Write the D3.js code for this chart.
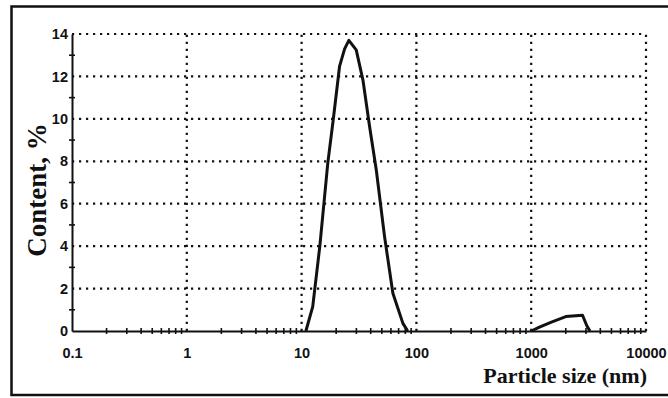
<!DOCTYPE html>
<html>
<head>
<meta charset="utf-8">
<script src="https://cdn.jsdelivr.net/npm/d3@7"></script>
<style>
  html, body { margin: 0; padding: 0; background: #fff; }
  svg { display: block; }
  .tick text { font-family: "Liberation Sans", Arial, sans-serif; font-weight: bold; font-size: 14.5px; fill: #111; }
  .title { font-family: "Liberation Serif", "Times New Roman", serif; font-weight: bold; fill: #111; }
</style>
</head>
<body>
<svg id="chart"></svg>
<script>
// particle size distribution (nm, %)
const sizes = [10.9, 12.5, 14.4, 16.9, 19.0, 21.4, 23.7, 25.8, 29.9, 34.2, 39.1, 44.7, 52.8, 62.4, 76.3, 84];
const content = [0, 1.15, 3.98, 7.9, 10.1, 12.47, 13.3, 13.7, 13.25, 11.84, 9.64, 7.6, 4.45, 1.78, 0.36, 0];
const sizes2 = [1000, 1180, 1500, 2000, 2800, 3050, 3250];
const content2 = [0, 0.18, 0.42, 0.68, 0.74, 0.25, 0];

const xTicks = [0.1, 1, 10, 100, 1000, 10000];
const xTickLabels = ["0.1", "1", "10", "100", "1000", "10000"];
const yTicks = [0, 2, 4, 6, 8, 10, 12, 14];
const yMinor = [1, 3, 5, 7, 9, 11, 13];

const width = 668, height = 398;
const svg = d3.select('#chart').attr('width', width).attr('height', height);

const x = d3.scaleLog().domain([0.1, 10000]).range([72, 646]);
const y = d3.scaleLinear().domain([0, 14]).range([331, 34]);

// frame (right side runs off the picture)
svg.append('path')
  .attr('d', `M${width + 5},6.5 H11.5 V395 H${width + 5}`)
  .attr('fill', 'none')
  .attr('stroke', '#111')
  .attr('stroke-width', 2.5);

// dotted grid
const grid = svg.append('g').attr('stroke', '#111').attr('stroke-width', 2.2)
  .attr('stroke-dasharray', '2.2,4.8');
grid.selectAll('line.h')
  .data(yTicks.filter(d => d > 0))
  .enter().append('line')
  .attr('x1', x(0.1)).attr('x2', x(10000))
  .attr('y1', d => y(d)).attr('y2', d => y(d));
grid.selectAll('line.v')
  .data(xTicks.filter(d => d > 0.1))
  .enter().append('line')
  .attr('x1', d => x(d)).attr('x2', d => x(d))
  .attr('y1', y(0)).attr('y2', y(14));

// y axis
const yAxis = svg.append('g')
  .attr('transform', `translate(${x(0.1)},0)`)
  .call(d3.axisLeft(y).tickValues(yTicks).tickSize(0).tickPadding(4));
yAxis.select('.domain').attr('stroke', '#111').attr('stroke-width', 2);

svg.append('g').selectAll('line')
  .data(yMinor)
  .enter().append('line')
  .attr('x1', x(0.1) - 3).attr('x2', x(0.1) + 3)
  .attr('y1', d => y(d)).attr('y2', d => y(d))
  .attr('stroke', '#111').attr('stroke-width', 1.6);

// x axis
const xAxis = svg.append('g')
  .attr('transform', `translate(0,${y(0)})`)
  .call(d3.axisBottom(x).tickValues(xTicks).tickSize(0).tickPadding(17)
    .tickFormat((d, i) => xTickLabels[i]));
xAxis.select('.domain').attr('stroke', '#111').attr('stroke-width', 2);

const xMinor = [];
for (let dec = 0.1; dec < 10000; dec *= 10) {
  for (let m = 2; m <= 9; m++) xMinor.push(dec * m);
}
svg.append('g').selectAll('line')
  .data(xMinor)
  .enter().append('line')
  .attr('x1', d => x(d)).attr('x2', d => x(d))
  .attr('y1', y(0) - 3).attr('y2', y(0) + 3)
  .attr('stroke', '#111').attr('stroke-width', 1.6);

// curves
const line = d3.line().x(d => x(d[0])).y(d => y(d[1]));
[d3.zip(sizes, content), d3.zip(sizes2, content2)].forEach(pts => {
  svg.append('path')
    .datum(pts)
    .attr('d', line)
    .attr('fill', 'none')
    .attr('stroke', '#111')
    .attr('stroke-width', 3)
    .attr('stroke-linejoin', 'round');
});

// titles
svg.append('text')
  .attr('class', 'title')
  .attr('transform', `translate(46,190) rotate(-90)`)
  .attr('text-anchor', 'middle')
  .attr('font-size', 27)
  .text('Content, %');

svg.append('text')
  .attr('class', 'title')
  .attr('x', 647).attr('y', 383)
  .attr('text-anchor', 'end')
  .attr('font-size', 22)
  .text('Particle size (nm)');
</script>
</body>
</html>
